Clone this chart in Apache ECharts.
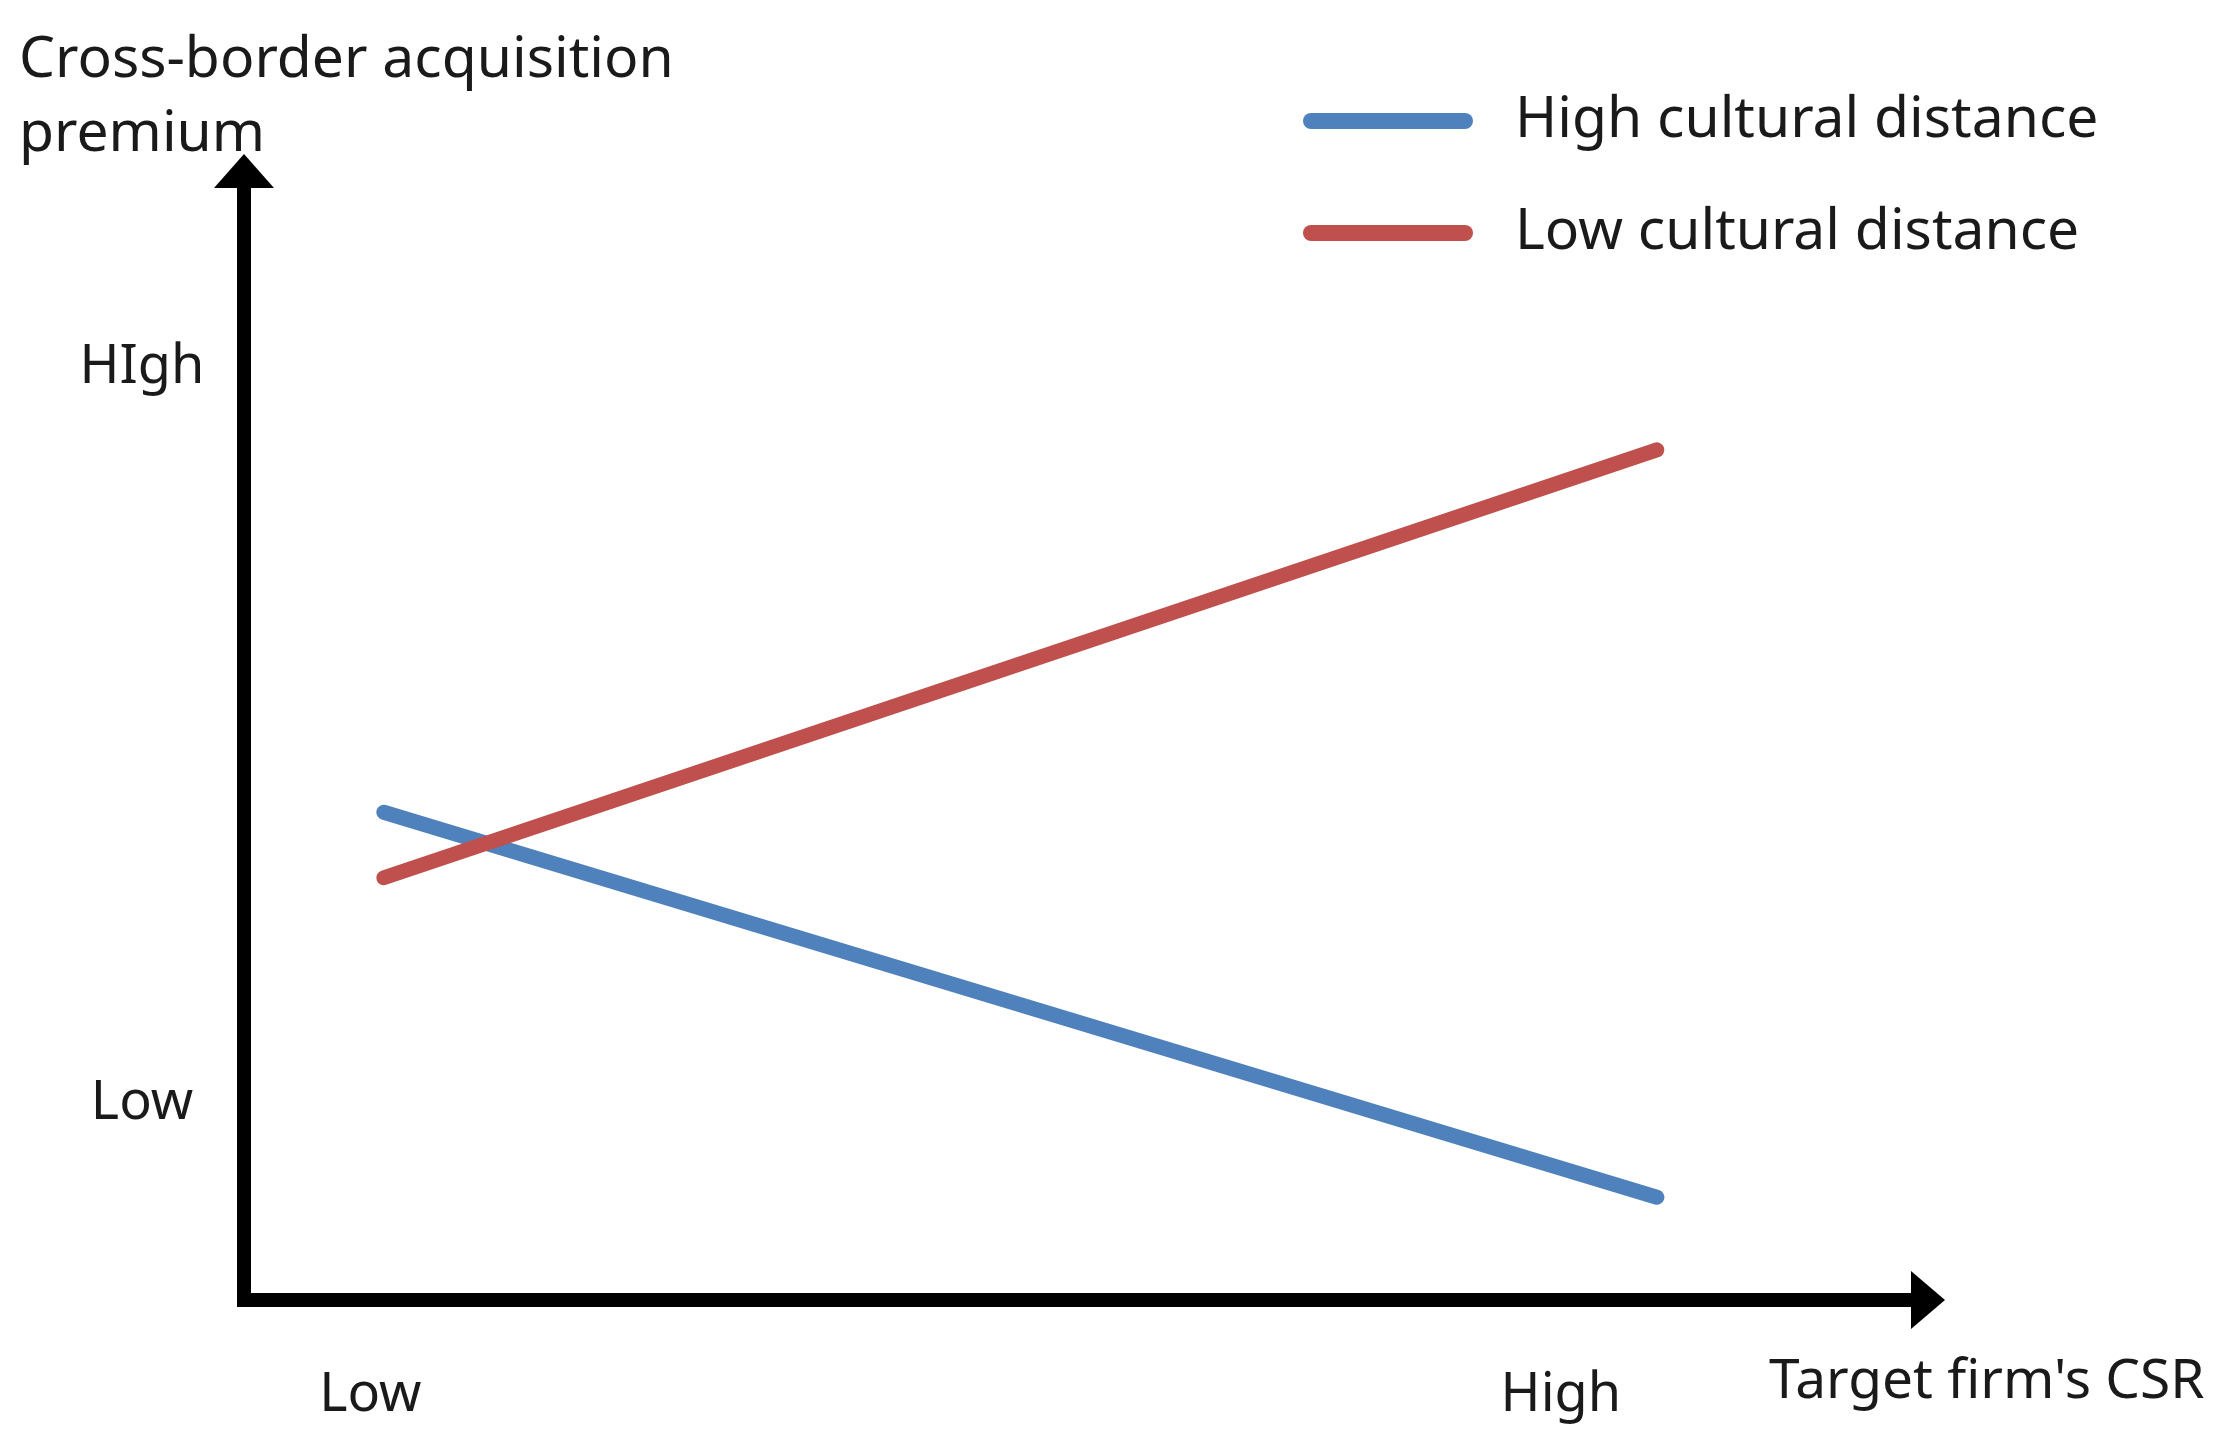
<!DOCTYPE html>
<html>
<head>
<meta charset="utf-8">
<script src="https://cdn.jsdelivr.net/npm/echarts@6/dist/echarts.min.js"></script>
<style>
html,body{margin:0;padding:0;background:#fff;}
#chart{width:2232px;height:1448px;}
</style>
</head>
<body>
<div id="chart"></div>
<script>
// ---- data ----
const seriesNames = ['High cultural distance', 'Low cultural distance'];
const csrLevels = [8.3, 83.9];                 // x: low CSR, high CSR
const highCulturalDistance = [43.2, 9.1];      // premium at low / high CSR
const lowCulturalDistance = [37.4, 75.3];
const xTickValues = [7.5, 78.2];
const xTickLabels = ['Low', 'High'];
const yTickValues = [17.4, 82.6];
const yTickLabels = ['Low', 'HIgh'];
const xAxisTitle = "Target firm's CSR";
const yAxisTitle = 'Cross-border acquisition\npremium';

const FONT = '"Noto Sans", sans-serif';
const TXT = '#1a1a1a';

function pairs(xs, ys) { return xs.map((x, i) => [x, ys[i]]); }
function lookup(vals, labels) {
  return function (v) {
    for (let i = 0; i < vals.length; i++) if (Math.abs(vals[i] - v) < 1e-6) return labels[i];
    return '';
  };
}

const chart = echarts.init(document.getElementById('chart'), null, { renderer: 'canvas' });
const legendIcon = 'path://M8,0H162A8,8,0,0,1,162,16H8A8,8,0,0,1,8,0Z';

chart.setOption({
  backgroundColor: '#ffffff',
  animation: false,
  title: [
    { text: yAxisTitle, left: 19, top: 24, padding: 0,
      textStyle: { fontFamily: FONT, fontSize: 57, fontWeight: 'normal', color: TXT, lineHeight: 74 } },
    { text: xAxisTitle, left: 1769, top: 1352, padding: 0,
      textStyle: { fontFamily: FONT, fontSize: 55, fontWeight: 'normal', color: TXT, lineHeight: 60 } }
  ],
  legend: {
    orient: 'vertical',
    left: 1303,
    top: 92,
    padding: 0,
    itemWidth: 170,
    itemHeight: 16,
    itemGap: 54,
    icon: legendIcon,
    textStyle: { fontFamily: FONT, fontSize: 57, color: TXT, lineHeight: 58, padding: [0, 0, 0, 37] },
    data: seriesNames
  },
  grid: { left: 244, right: 304, top: 171, bottom: 148, containLabel: false },
  xAxis: {
    type: 'value', min: 0, max: 100,
    axisLine: { show: true, symbol: ['none', 'triangle'], symbolSize: [58, 34],
      lineStyle: { color: '#000', width: 14, cap: 'square' } },
    axisTick: { show: false },
    splitLine: { show: false },
    axisLabel: {
      customValues: xTickValues,
      formatter: lookup(xTickValues, xTickLabels),
      margin: 69,
      fontFamily: FONT, fontSize: 54, color: TXT
    }
  },
  yAxis: {
    type: 'value', min: 0, max: 100,
    axisLine: { show: true, symbol: ['none', 'triangle'], symbolSize: [60, 34],
      lineStyle: { color: '#000', width: 14, cap: 'square' } },
    axisTick: { show: false },
    splitLine: { show: false },
    axisLabel: {
      customValues: yTickValues,
      formatter: lookup(yTickValues, yTickLabels),
      margin: 102,
      align: 'center',
      fontFamily: FONT, fontSize: 54, color: TXT
    }
  },
  series: [
    { name: seriesNames[0], type: 'line', data: pairs(csrLevels, highCulturalDistance),
      symbol: 'none', color: '#4F81BD',
      lineStyle: { width: 15, color: '#4F81BD', cap: 'round' } },
    { name: seriesNames[1], type: 'line', data: pairs(csrLevels, lowCulturalDistance),
      symbol: 'none', color: '#C0504D',
      lineStyle: { width: 15, color: '#C0504D', cap: 'round' } }
  ]
});
</script>
</body>
</html>
